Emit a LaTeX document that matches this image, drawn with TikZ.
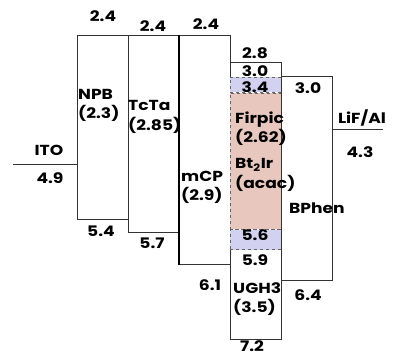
\documentclass[tikz,border=0pt]{standalone}
\usepackage{fontspec}
\setmainfont{Poppins}[FakeStretch=1.18]
\usepackage{xcolor}
\usepackage{tikz}
\usetikzlibrary{positioning}
\definecolor{edark}{HTML}{333333}
\definecolor{eblue}{HTML}{D2D2F0}
\definecolor{epink}{HTML}{E8C8BE}
\definecolor{egray}{HTML}{666666}

\begin{document}
\begin{tikzpicture}[x=1pt,y=-1pt,
    level/.style={draw=edark,line width=0.8pt,inner sep=0pt,
      minimum width=51pt,anchor=north west},
    film/.style={draw=egray,dashed,line width=0.7pt,inner sep=0pt,
      minimum width=51pt},
    lab/.style={font=\fontsize{14.5}{19.5}\selectfont\bfseries,
      inner sep=0pt,align=left,anchor=west},
    val/.style={font=\fontsize{14.5}{19.5}\selectfont\bfseries,inner sep=0pt}]
      \useasboundingbox (0,0) rectangle (395,356);

      % Hole side
      \node[level,minimum height=184pt] (npb) at (77,35) {};
      \node[level,minimum height=197pt] (tcta) at (128,35) {};
      \node[level,minimum height=229pt] (mcp) at (179,35) {};
      \draw[black,line width=1.4pt] (mcp.north west) -- (mcp.south west);

      % Emitting layer
      \node[film,fill=eblue,minimum height=15pt,anchor=north west]
        (blueT) at (230,77) {};
      \node[film,fill=epink,minimum height=136pt,below=0pt of blueT] (fir) {};
      \node[film,fill=eblue,minimum height=20pt,below=0pt of fir] (blueB) {};
      \draw[edark,line width=0.8pt]
        (blueT.north west) -- ++(0,-15) -| (blueT.north east);
      \draw[edark,line width=0.8pt]
        (blueB.south west) -- ++(0,89) -| (blueB.south east);

      % Electron side
      \node[level,minimum height=204pt] (bphen) at (281,76) {};

      % Electrodes
      \coordinate (itoL) at (13,164);
      \draw[edark,line width=0.8pt] (itoL) -- (itoL -| npb.west);
      \coordinate (lifR) at (383,129);
      \draw[edark,line width=0.8pt] (bphen.east |- lifR) -- (lifR);

      % Names
      \node[lab] (npbT) at (78,105.5) {NPB\\(2.3)};
      \node[lab] (tctaT) at (128,117) {TcTa\\(2.85)};
      \node[lab] (mcpT) at (181,187.5) {mCP\\(2.9)};
      \node[lab] (firT) at (235,128.5) {Firpic\\(2.62)};
      \node[lab] (btT) at (235,175) {Bt\textsubscript{2}Ir\\(acac)};
      \node[lab] (ughT) at (233,299) {UGH3\\(3.5)};
      \node[lab] (bphenT) at (289,208) {BPhen};
      \node[val] (itoT) at (49,150) {ITO};
      \node[val] (lifT) at (362,118) {LiF/Al};

      % LUMO
      \node[val] (npbL) at (103,16) {2.4};
      \node[val] (tctaL) at (153,26) {2.4};
      \node[val] (mcpL) at (206,24) {2.4};
      \node[val] (ughL) at (255,53) {2.8};
      \node[val] (firL) at (255,71) {3.0};
      \node[val] (btL) at (255,87) {3.4};
      \node[val] (bphenL) at (308,88) {3.0};

      % HOMO
      \node[val] (itoH) at (50,178) {4.9};
      \node[val] (lifH) at (360,152) {4.3};
      \node[val] (npbH) at (101,231) {5.4};
      \node[val] (tctaH) at (152,243) {5.7};
      \node[val] (mcpH) at (210,285) {6.1};
      \node[val] (btH) at (255,235) {5.6};
      \node[val] (firH) at (255,260) {5.9};
      \node[val] (bphenH) at (308,295) {6.4};
      \node[val] (ughH) at (252,346) {7.2};
    \end{tikzpicture}
\end{document}
